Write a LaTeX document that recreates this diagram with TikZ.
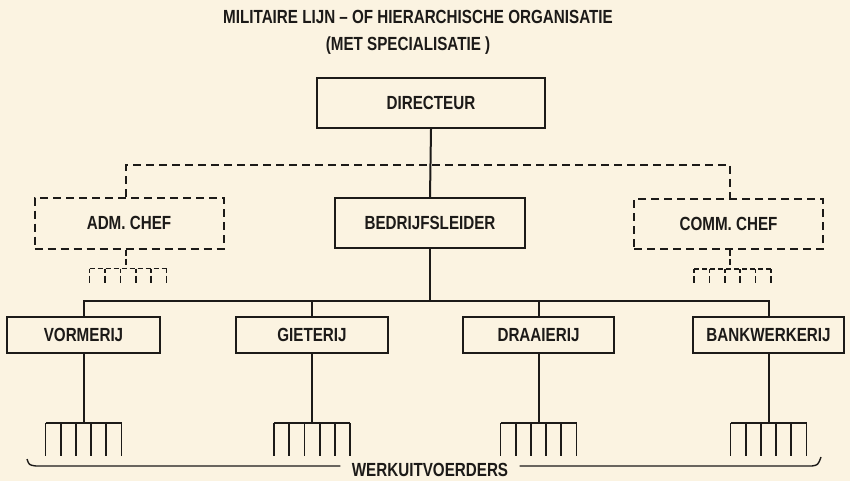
\documentclass[tikz,border=0pt]{standalone}
\usepackage{fontspec}
\setmainfont{Liberation Sans}[FakeStretch=0.8]
\definecolor{paper}{HTML}{FBF3E1}
\definecolor{ink}{HTML}{1C1A18}
\tikzset{
  lbl/.style={font=\fontsize{19}{21}\selectfont\bfseries, text=ink},
  box/.style={lbl, draw=ink, line width=2pt, fill=none, inner sep=0pt},
  dbox/.style={box, dash pattern=on 8pt off 5pt},
  ln/.style={draw=ink, line width=2pt},
  dln/.style={ln, dash pattern=on 8pt off 5pt},
  tick/.style={ln, line width=1.8pt},
}
\begin{document}
\begin{tikzpicture}[x=1pt,y=-1pt]
\fill[paper] (0,0) rectangle (850,481);
\useasboundingbox (0,0) rectangle (850,481);

\node[lbl] (t1) at (418,17) {MILITAIRE LIJN -- OF HIERARCHISCHE ORGANISATIE};
\node[lbl] (t2) at (408,46) {(MET SPECIALISATIE )};

\node[box, minimum width=228pt, minimum height=50pt] (dir) at (431,103) {DIRECTEUR};
\node[dbox, minimum width=189pt, minimum height=51pt] (adm) at (129,223) {ADM. CHEF};
\node[box, minimum width=190pt, minimum height=50pt] (bedr) at (430,223) {BEDRIJFSLEIDER};
\node[dbox, minimum width=189pt, minimum height=50pt] (comm) at (728.5,224) {COMM. CHEF};

\node[box, minimum width=153pt, minimum height=36pt] (vorm) at (83.5,335) {VORMERIJ};
\node[box, minimum width=152pt, minimum height=36pt] (giet) at (312,335) {GIETERIJ};
\node[box, minimum width=151pt, minimum height=36pt] (draai) at (538.5,335) {DRAAIERIJ};
\node[box, minimum width=151pt, minimum height=36pt] (bank) at (768.5,335) {BANKWERKERIJ};

\coordinate (jd) at (431,165);
\coordinate (jb) at (430,301);

% main line
\draw[ln] (dir.south) -- (bedr.north);
\draw[dln] ([xshift=-3.5pt]adm.north) |- (jd) -| ([xshift=1.5pt]comm.north);
\draw[ln] (bedr.south) -- (jb);
\draw[ln] (vorm.north) |- (jb) -| (bank.north);
\draw[ln] (giet.north) -- (giet.north |- jb);
\draw[ln] (draai.north) -- (draai.north |- jb);

% dashed staff forks
\foreach \n/\dx in {adm/-3.5,comm/1.5} {
  \draw[dln, dash pattern=on 6pt off 3pt] ([xshift=\dx pt]\n.south) -- ++(0,19) coordinate (\n-f);
  \draw[ln, line width=1.6pt, dash pattern=on 5pt off 3pt] ([xshift=-36pt]\n-f) -- ([xshift=41pt]\n-f);
  \foreach \i in {0,...,5} {
    \draw[tick, line width=1.6pt, dash pattern=on 4pt off 3pt on 7pt] ([xshift={(-36+15.4*\i)*1pt}]\n-f) -- ++(0,14);
  }
}

% work forks
\foreach \n in {vorm,giet,draai,bank} {
  \draw[ln] (\n.south) -- ++(0,69) coordinate (\n-f);
  \draw[ln] ([xshift=-38pt]\n-f) -- ([xshift=38pt]\n-f);
  \foreach \i in {0,...,5} {
    \draw[tick] ([xshift={(-38+15.2*\i)*1pt}]\n-f) -- ++(0,33);
  }
}

% bottom brace
\node[lbl] (werk) at (430,470) {WERKUITVOERDERS};
\coordinate (bl) at (27,459);
\coordinate (br) at (821,457);
\draw[ln, line width=1.4pt] (bl) .. controls (29,465) .. (36,466) -- ([xshift=-8pt]werk.west |- 0,466);
\draw[ln, line width=1.4pt] ([xshift=8pt]werk.east |- 0,466) -- (812,466) .. controls (818,465) .. (br);
\end{tikzpicture}
\end{document}
